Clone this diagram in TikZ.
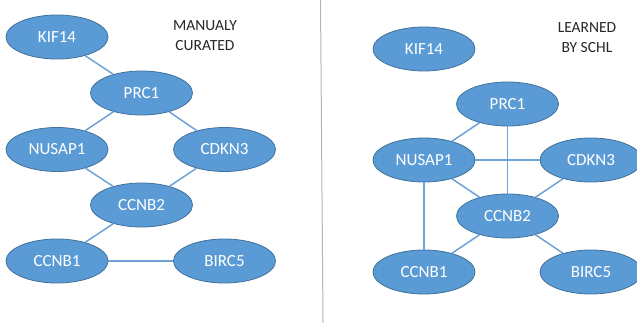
\documentclass[tikz,border=0pt]{standalone}
\usepackage{fontspec}
\setmainfont{Carlito}
\usepackage{tikz}
\usetikzlibrary{shapes.geometric}
\definecolor{genefill}{HTML}{5B9BD5}
\definecolor{genedraw}{HTML}{41719C}
\definecolor{edgecol}{HTML}{6FA3D8}
\definecolor{splitcol}{HTML}{A9B8C8}

\begin{document}
\begin{tikzpicture}[x=1pt,y=-1pt,
    gene/.style={ellipse,draw=genedraw,fill=genefill,line width=0.8pt,minimum width=102pt,minimum height=44pt,inner sep=0pt,text=white,font=\fontsize{17}{20}\selectfont},
    link/.style={draw=edgecol,line width=1.5pt},
    caption/.style={align=center,font=\fontsize{15.5}{20}\selectfont,text=black!85}]
      \useasboundingbox (0,0) rectangle (637,326);
      \clip (0,0) rectangle (637,326);
      \fill [white] (0,0) rectangle (637,326);
      % manually curated network
      \node [gene] (lkif) at (57,37) {KIF14};
      \node [gene] (lprc) at (141.5,93) {PRC1};
      \node [gene] (lnus) at (57,149.5) {NUSAP1};
      \node [gene] (lcdk) at (224.5,149.5) {CDKN3};
      \node [gene] (lcb2) at (141.5,205) {CCNB2};
      \node [gene] (lcb1) at (57,261) {CCNB1};
      \node [gene] (lbir) at (224.5,261) {BIRC5};
      \node [caption] (ltitle) at (205,36) {MANUALY\\CURATED};
      \draw [link] (lkif) -- (lprc);
      \draw [link] (lprc) -- (lnus);
      \draw [link] (lprc) -- (lcdk);
      \draw [link] (lnus) -- (lcb2);
      \draw [link] (lcdk) -- (lcb2);
      \draw [link] (lcb2) -- (lcb1);
      \draw [link] (lcb1) -- (lbir);
      % divider
      \draw [splitcol,line width=1pt] (320.5,0) -- (323,323);
      % learned network
      \node [gene] (rkif) at (424,49) {KIF14};
      \node [gene] (rprc) at (507.5,104) {PRC1};
      \node [gene] (rnus) at (424,160) {NUSAP1};
      \node [gene] (rcdk) at (591,160) {CDKN3};
      \node [gene] (rcb2) at (507.5,216) {CCNB2};
      \node [gene] (rcb1) at (424,272) {CCNB1};
      \node [gene] (rbir) at (591,272) {BIRC5};
      \node [caption] (rtitle) at (587,38) {LEARNED\\BY SCHL};
      \draw [link] (rprc) -- (rnus);
      \draw [link] (rprc) -- (rcb2);
      \draw [link] (rnus) -- (rcdk);
      \draw [link] (rnus) -- (rcb2);
      \draw [link] (rcdk) -- (rcb2);
      \draw [link] (rnus) -- (rcb1);
      \draw [link] (rcb2) -- (rcb1);
      \draw [link] (rcb2) -- (rbir);
\end{tikzpicture}
\end{document}
